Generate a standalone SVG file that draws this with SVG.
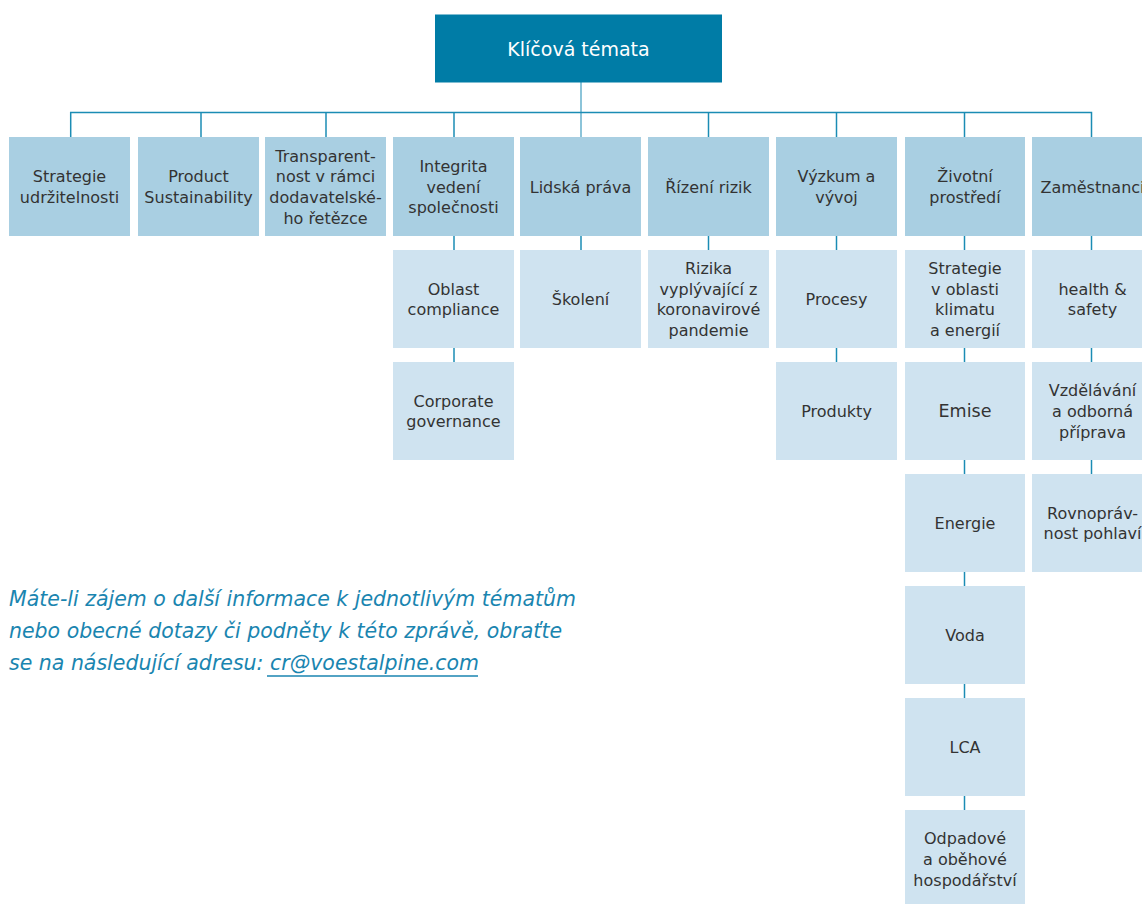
<svg xmlns="http://www.w3.org/2000/svg" width="1142" height="904" viewBox="0 0 1142 904">
<style>
.top{fill:#007ca6}
.l1{fill:#a9cfe2}
.l2{fill:#cfe3f0}
text{font-family:"DejaVu Sans","Liberation Sans",sans-serif}
.t{font-size:16px;fill:#333;text-anchor:middle}
.tt{font-size:19px;fill:#fff;text-anchor:middle}
.big{font-size:17.5px}
.c{stroke:#1b8cb4;stroke-width:1.5;fill:none}
.cm{stroke:#8cc4d9;stroke-width:2;fill:none}
.note{font-size:20.5px;font-style:italic;fill:#1a85b0}
</style>
<rect width="1142" height="904" fill="#fff"/>
<g id="connectors">
<line class="cm" x1="581" y1="82" x2="581" y2="137"/>
<polyline class="c" points="70.7,137 70.7,112.5 1091.5,112.5 1091.5,137"/>
<line class="c" x1="201" y1="112.5" x2="201" y2="137"/>
<line class="c" x1="326" y1="112.5" x2="326" y2="137"/>
<line class="c" x1="454" y1="112.5" x2="454" y2="137"/>
<line class="c" x1="708.5" y1="112.5" x2="708.5" y2="137"/>
<line class="c" x1="836.5" y1="112.5" x2="836.5" y2="137"/>
<line class="c" x1="964.5" y1="112.5" x2="964.5" y2="137"/>
<line class="c" x1="454" y1="236" x2="454" y2="250"/>
<line class="c" x1="454" y1="348" x2="454" y2="362"/>
<line class="c" x1="581" y1="236" x2="581" y2="250"/>
<line class="c" x1="708.5" y1="236" x2="708.5" y2="250"/>
<line class="c" x1="836.5" y1="236" x2="836.5" y2="250"/>
<line class="c" x1="836.5" y1="348" x2="836.5" y2="362"/>
<line class="c" x1="964.5" y1="236" x2="964.5" y2="250"/>
<line class="c" x1="964.5" y1="348" x2="964.5" y2="362"/>
<line class="c" x1="964.5" y1="459" x2="964.5" y2="474"/>
<line class="c" x1="964.5" y1="571" x2="964.5" y2="586"/>
<line class="c" x1="964.5" y1="683" x2="964.5" y2="698"/>
<line class="c" x1="964.5" y1="796" x2="964.5" y2="810"/>
<line class="c" x1="1091.5" y1="236" x2="1091.5" y2="250"/>
<line class="c" x1="1091.5" y1="348" x2="1091.5" y2="362"/>
<line class="c" x1="1091.5" y1="459" x2="1091.5" y2="474"/>
</g>
<g id="root"><rect class="top" x="435" y="14.5" width="287" height="68"/><text class="tt" x="578.5" y="55.5">Klíčová témata</text></g>
<g id="strategie"><rect class="l1" x="9" y="137" width="121" height="99"/><text class="t" x="69.5" y="182">Strategie</text><text class="t" x="69.5" y="203">udržitelnosti</text></g>
<g id="product"><rect class="l1" x="138" y="137" width="121" height="99"/><text class="t" x="198.5" y="182">Product</text><text class="t" x="198.5" y="203">Sustainability</text></g>
<g id="transparentnost"><rect class="l1" x="265" y="137" width="121" height="99"/><text class="t" x="325.5" y="161.5">Transparent-</text><text class="t" x="325.5" y="182.2">nost v rámci</text><text class="t" x="325.5" y="202.9">dodavatelské-</text><text class="t" x="325.5" y="223.6">ho řetězce</text></g>
<g id="integrita"><rect class="l1" x="393" y="137" width="121" height="99"/><text class="t" x="453.5" y="171.8">Integrita</text><text class="t" x="453.5" y="192.5">vedení</text><text class="t" x="453.5" y="213.2">společnosti</text></g>
<g id="lidska"><rect class="l1" x="520" y="137" width="121" height="99"/><text class="t" x="580.5" y="192.5">Lidská práva</text></g>
<g id="rizeni"><rect class="l1" x="648" y="137" width="121" height="99"/><text class="t" x="708.5" y="192.5">Řízení rizik</text></g>
<g id="vyzkum"><rect class="l1" x="776" y="137" width="121" height="99"/><text class="t" x="836.5" y="182">Výzkum a</text><text class="t" x="836.5" y="203">vývoj</text></g>
<g id="zivotni"><rect class="l1" x="905" y="137" width="120" height="99"/><text class="t" x="965" y="182">Životní</text><text class="t" x="965" y="203">prostředí</text></g>
<g id="zamestnanci"><rect class="l1" x="1032" y="137" width="121" height="99"/><text class="t" x="1092.5" y="192.5">Zaměstnanci</text></g>
<g id="compliance"><rect class="l2" x="393" y="250" width="121" height="98"/><text class="t" x="453.5" y="294.6">Oblast</text><text class="t" x="453.5" y="315.4">compliance</text></g>
<g id="governance"><rect class="l2" x="393" y="362" width="121" height="98"/><text class="t" x="453.5" y="406.6">Corporate</text><text class="t" x="453.5" y="427.4">governance</text></g>
<g id="skoleni"><rect class="l2" x="520" y="250" width="121" height="98"/><text class="t" x="580.5" y="305">Školení</text></g>
<g id="rizika"><rect class="l2" x="648" y="250" width="121" height="98"/><text class="t" x="708.5" y="274">Rizika</text><text class="t" x="708.5" y="294.6">vyplývající z</text><text class="t" x="708.5" y="315.4">koronavirové</text><text class="t" x="708.5" y="336">pandemie</text></g>
<g id="procesy"><rect class="l2" x="776" y="250" width="121" height="98"/><text class="t" x="836.5" y="305">Procesy</text></g>
<g id="produkty"><rect class="l2" x="776" y="362" width="121" height="98"/><text class="t" x="836.5" y="417">Produkty</text></g>
<g id="klima"><rect class="l2" x="905" y="250" width="120" height="98"/><text class="t" x="965" y="274">Strategie</text><text class="t" x="965" y="294.6">v oblasti</text><text class="t" x="965" y="315.4">klimatu</text><text class="t" x="965" y="336">a energií</text></g>
<g id="emise"><rect class="l2" x="905" y="362" width="120" height="98"/><text class="t big" x="965" y="417.4">Emise</text></g>
<g id="energie"><rect class="l2" x="905" y="474" width="120" height="98"/><text class="t" x="965" y="529">Energie</text></g>
<g id="voda"><rect class="l2" x="905" y="586" width="120" height="98"/><text class="t" x="965" y="641">Voda</text></g>
<g id="lca"><rect class="l2" x="905" y="698" width="120" height="98"/><text class="t" x="965" y="753">LCA</text></g>
<g id="odpady"><rect class="l2" x="905" y="810" width="120" height="98"/><text class="t" x="965" y="844.3">Odpadové</text><text class="t" x="965" y="865">a oběhové</text><text class="t" x="965" y="885.7">hospodářství</text></g>
<g id="health"><rect class="l2" x="1032" y="250" width="121" height="98"/><text class="t" x="1092.5" y="294.6">health &amp;</text><text class="t" x="1092.5" y="315.4">safety</text></g>
<g id="vzdelavani"><rect class="l2" x="1032" y="362" width="121" height="98"/><text class="t" x="1092.5" y="396.3">Vzdělávání</text><text class="t" x="1092.5" y="417">a odborná</text><text class="t" x="1092.5" y="437.7">příprava</text></g>
<g id="rovnopravnost"><rect class="l2" x="1032" y="474" width="121" height="98"/><text class="t" x="1092.5" y="518.6">Rovnopráv-</text><text class="t" x="1092.5" y="539.4">nost pohlaví</text></g>
<g id="note">
<text class="note" x="9" y="606">Máte-li zájem o další informace k jednotlivým tématům</text>
<text class="note" x="9" y="638">nebo obecné dotazy či podněty k této zprávě, obraťte</text>
<text class="note" x="9" y="670">se na následující adresu: cr@voestalpine.com</text>
<line x1="267" y1="676" x2="478" y2="676" stroke="#1a85b0" stroke-width="1.5"/>
</g>
</svg>
